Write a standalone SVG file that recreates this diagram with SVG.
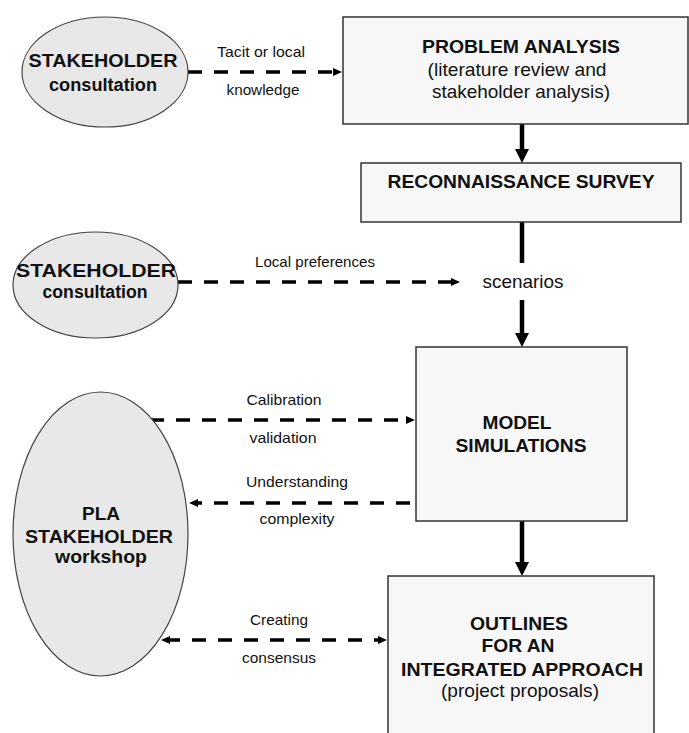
<svg xmlns="http://www.w3.org/2000/svg" width="689" height="733" viewBox="0 0 689 733">
<style>
.box{fill:#f7f7f7;stroke:#333;stroke-width:1.5}
.ell{fill:#e8e8e8;stroke:#444;stroke-width:1.2}
.t{font-family:"Liberation Sans",Arial,sans-serif;fill:#111;text-anchor:middle}
.b{font-weight:bold;font-size:18px}
.n{font-size:18.5px}
.l{font-size:15px}
.solid{stroke:#000;stroke-width:4.5;fill:none}
.dash{stroke:#000;stroke-width:3.5;stroke-dasharray:14 12;fill:none}
</style>
<defs>
<marker id="big" markerUnits="userSpaceOnUse" markerWidth="16" markerHeight="16" refX="2" refY="7" orient="auto">
<path d="M0,0 L14,7 L0,14 z" fill="#000"/>
</marker>
<marker id="small" markerUnits="userSpaceOnUse" markerWidth="10" markerHeight="10" refX="4" refY="4" orient="auto-start-reverse">
<path d="M0,0 L9,4 L0,8 z" fill="#000"/>
</marker>
</defs>
<rect width="689" height="733" fill="#fff"/>

<g id="connectors">
<line class="dash" x1="188" y1="72" x2="337" y2="72" marker-end="url(#small)"/>
<line class="solid" x1="522" y1="124" x2="522" y2="151" marker-end="url(#big)"/>
<line class="solid" x1="522" y1="222" x2="522" y2="263"/>
<line class="solid" x1="522" y1="300" x2="522" y2="335" marker-end="url(#big)"/>
<line class="dash" x1="178" y1="282" x2="455" y2="282" marker-end="url(#small)"/>
<line class="dash" x1="150" y1="420" x2="410" y2="420" marker-end="url(#small)"/>
<line class="dash" x1="410" y1="503" x2="194" y2="503" marker-end="url(#small)"/>
<line class="solid" x1="522" y1="521" x2="522" y2="564" marker-end="url(#big)"/>
<line class="dash" x1="166" y1="640" x2="382" y2="640" marker-start="url(#small)" marker-end="url(#small)"/>
<text class="t l" x="261" y="57" textLength="88" lengthAdjust="spacingAndGlyphs">Tacit or local</text>
<text class="t l" x="263" y="95" textLength="73" lengthAdjust="spacingAndGlyphs">knowledge</text>
<text class="t l" x="315" y="267" textLength="120" lengthAdjust="spacingAndGlyphs">Local preferences</text>
<text class="t l" x="284" y="405" textLength="75" lengthAdjust="spacingAndGlyphs">Calibration</text>
<text class="t l" x="283" y="443" textLength="67" lengthAdjust="spacingAndGlyphs">validation</text>
<text class="t l" x="297" y="487" textLength="102" lengthAdjust="spacingAndGlyphs">Understanding</text>
<text class="t l" x="297" y="524" textLength="75" lengthAdjust="spacingAndGlyphs">complexity</text>
<text class="t l" x="279" y="625" textLength="58" lengthAdjust="spacingAndGlyphs">Creating</text>
<text class="t l" x="279" y="663" textLength="74" lengthAdjust="spacingAndGlyphs">consensus</text>
</g>

<g id="stakeholder1">
<ellipse class="ell" cx="105" cy="72" rx="83" ry="55"/>
<text class="t b" x="103" y="67" textLength="149" lengthAdjust="spacingAndGlyphs">STAKEHOLDER</text>
<text class="t b" x="103" y="91" textLength="108" lengthAdjust="spacingAndGlyphs">consultation</text>
</g>

<g id="problem-analysis">
<rect class="box" x="343" y="17" width="345" height="107"/>
<text class="t b" x="521" y="53" textLength="198" lengthAdjust="spacingAndGlyphs">PROBLEM ANALYSIS</text>
<text class="t n" x="517" y="76" textLength="179" lengthAdjust="spacingAndGlyphs">(literature review and</text>
<text class="t n" x="521" y="98" textLength="178" lengthAdjust="spacingAndGlyphs">stakeholder analysis)</text>
</g>

<g id="reconnaissance">
<rect class="box" x="361" y="163" width="320" height="59"/>
<text class="t b" x="521" y="188" textLength="267" lengthAdjust="spacingAndGlyphs">RECONNAISSANCE SURVEY</text>
</g>

<g id="scenarios">
<text class="t n" x="523" y="288" textLength="81" lengthAdjust="spacingAndGlyphs">scenarios</text>
</g>

<g id="stakeholder2">
<ellipse class="ell" cx="95.5" cy="285" rx="82.5" ry="53"/>
<text class="t b" x="96" y="277" textLength="160" lengthAdjust="spacingAndGlyphs">STAKEHOLDER</text>
<text class="t b" x="95" y="298" textLength="105" lengthAdjust="spacingAndGlyphs">consultation</text>
</g>

<g id="model-simulations">
<rect class="box" x="416" y="347" width="211" height="174"/>
<text class="t b" x="517" y="429" textLength="69" lengthAdjust="spacingAndGlyphs">MODEL</text>
<text class="t b" x="521" y="452" textLength="131" lengthAdjust="spacingAndGlyphs">SIMULATIONS</text>
</g>

<g id="pla-workshop">
<ellipse class="ell" cx="100.5" cy="534" rx="87.5" ry="142"/>
<text class="t b" x="101" y="520" textLength="38" lengthAdjust="spacingAndGlyphs">PLA</text>
<text class="t b" x="99" y="543" textLength="148" lengthAdjust="spacingAndGlyphs">STAKEHOLDER</text>
<text class="t b" x="101" y="563" textLength="92" lengthAdjust="spacingAndGlyphs">workshop</text>
</g>

<g id="outlines">
<rect class="box" x="388" y="576" width="266" height="170"/>
<text class="t b" x="519" y="630" textLength="98" lengthAdjust="spacingAndGlyphs">OUTLINES</text>
<text class="t b" x="518" y="652" textLength="73" lengthAdjust="spacingAndGlyphs">FOR AN</text>
<text class="t b" x="522" y="676" textLength="242" lengthAdjust="spacingAndGlyphs">INTEGRATED APPROACH</text>
<text class="t n" x="520" y="697" textLength="158" lengthAdjust="spacingAndGlyphs">(project proposals)</text>
</g>
</svg>
